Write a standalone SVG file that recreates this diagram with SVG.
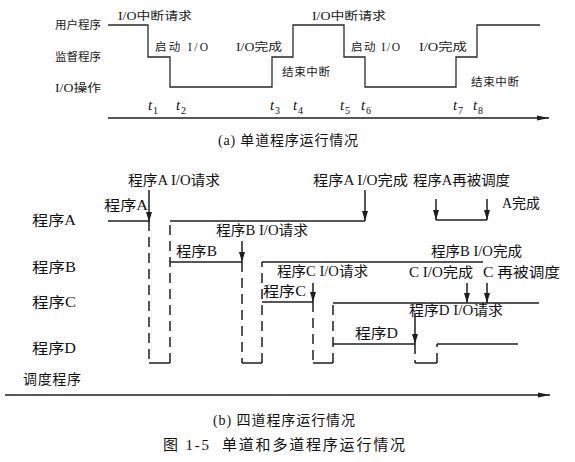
<svg xmlns="http://www.w3.org/2000/svg" width="575" height="462" viewBox="0 0 575 462">
  <defs>
    <style>
      .ln { fill: none; stroke: #1e1e1e; stroke-width: 1.5; }
      .thin { fill: none; stroke: #2a2a2a; stroke-width: 1.3; }
      .ds { stroke-dasharray: 10 6; }
      .tx { font-family: "Liberation Serif", "Noto Sans CJK SC", serif; font-size: 14px; fill: #111; }
      .sm { font-family: "Liberation Serif", "Noto Sans CJK SC", serif; font-size: 11.5px; fill: #222; }
      .cap { font-family: "Liberation Serif", "Noto Sans CJK SC", serif; font-size: 14px; fill: #111; }
      .ti { font-family: "Liberation Serif", serif; font-style: italic; font-size: 15px; fill: #111; }
      .sub { font-family: "Liberation Serif", serif; font-size: 10px; fill: #111; }
    </style>
    <marker id="down" viewBox="0 0 10 10" refX="10" refY="5" markerWidth="10" markerHeight="10" orient="auto" markerUnits="userSpaceOnUse">
      <path d="M0,2 L10,5 L0,8 z" fill="#1e1e1e"/>
    </marker>
    <marker id="axis" viewBox="0 0 12 8" refX="12" refY="4" markerWidth="12" markerHeight="8" orient="auto" markerUnits="userSpaceOnUse">
      <path d="M0,1.5 L12,4 L0,6.5 z" fill="#1e1e1e"/>
    </marker>
  </defs>

  <!-- (a) single-program run -->
  <g id="single">
    <g id="single-labels">
      <text class="sm" x="55" y="29" textLength="46" lengthAdjust="spacing">用户程序</text>
      <text class="sm" x="55" y="61" textLength="46" lengthAdjust="spacing">监督程序</text>
      <text class="sm" x="55" y="92" textLength="46" lengthAdjust="spacingAndGlyphs">I/O操作</text>
    </g>
    <g id="single-trace">
      <path class="thin" d="M108,25 H148 V57 H170 V87 H272 V57 H293 V25 H344 V57 H365 V87 H456 V57 H477 V25 H540"/>
    </g>
    <g id="single-notes">
      <text class="sm" x="118" y="20" textLength="74" lengthAdjust="spacingAndGlyphs">I/O中断请求</text>
      <text class="sm" x="312" y="20" textLength="74" lengthAdjust="spacingAndGlyphs">I/O中断请求</text>
      <text class="sm" x="155" y="51" textLength="53" lengthAdjust="spacing">启动 I/O</text>
      <text class="sm" x="236" y="51" textLength="46" lengthAdjust="spacingAndGlyphs">I/O完成</text>
      <text class="sm" x="351" y="51" textLength="49" lengthAdjust="spacing">启动 I/O</text>
      <text class="sm" x="419" y="51" textLength="48" lengthAdjust="spacingAndGlyphs">I/O完成</text>
      <text class="sm" x="282" y="76" textLength="48" lengthAdjust="spacing">结束中断</text>
      <text class="sm" x="471" y="86" textLength="48" lengthAdjust="spacing">结束中断</text>
    </g>
    <g id="single-times">
      <text class="ti" x="148" y="110">t</text><text class="sub" x="153" y="114">1</text>
      <text class="ti" x="176" y="110">t</text><text class="sub" x="181" y="114">2</text>
      <text class="ti" x="270" y="110">t</text><text class="sub" x="275" y="114">3</text>
      <text class="ti" x="293" y="110">t</text><text class="sub" x="298" y="114">4</text>
      <text class="ti" x="340" y="110">t</text><text class="sub" x="345" y="114">5</text>
      <text class="ti" x="361" y="110">t</text><text class="sub" x="366" y="114">6</text>
      <text class="ti" x="453" y="110">t</text><text class="sub" x="458" y="114">7</text>
      <text class="ti" x="473" y="110">t</text><text class="sub" x="478" y="114">8</text>
    </g>
    <line class="ln" x1="108" y1="118" x2="549" y2="118" marker-end="url(#axis)"/>
    <text class="cap" x="218" y="145" textLength="140" lengthAdjust="spacing">(a) 单道程序运行情况</text>
  </g>

  <!-- (b) four-program run -->
  <g id="multi">
    <g id="row-labels">
      <text class="cap" x="32" y="225" textLength="44" lengthAdjust="spacingAndGlyphs">程序A</text>
      <text class="cap" x="32" y="272" textLength="44" lengthAdjust="spacingAndGlyphs">程序B</text>
      <text class="cap" x="32" y="307" textLength="44" lengthAdjust="spacingAndGlyphs">程序C</text>
      <text class="cap" x="32" y="353" textLength="44" lengthAdjust="spacingAndGlyphs">程序D</text>
      <text class="cap" x="23" y="384" textLength="58" lengthAdjust="spacing">调度程序</text>
    </g>

    <g id="prog-a">
      <path class="ln" d="M108,221 H149"/>
      <path class="ln ds" d="M149,221 V363"/>
      <path class="ln" d="M149,363 H170"/>
      <path class="ln ds" d="M170,363 V221"/>
      <path class="ln" d="M170,221 H365"/>
      <path class="ln" d="M436,220 H487"/>
    </g>
    <g id="prog-b">
      <path class="ln" d="M170,262 H242"/>
      <path class="ln ds" d="M242,262 V363"/>
      <path class="ln" d="M242,363 H262"/>
      <path class="ln ds" d="M262,363 V262"/>
      <path class="ln" d="M262,262 H483"/>
    </g>
    <g id="prog-c">
      <path class="ln" d="M262,302 H313"/>
      <path class="ln ds" d="M313,302 V363"/>
      <path class="ln" d="M313,363 H333"/>
      <path class="ln ds" d="M333,363 V303"/>
      <path class="ln" d="M333,303 H539"/>
    </g>
    <g id="prog-d">
      <path class="ln" d="M333,344 H415"/>
      <path class="ln ds" d="M415,344 V363"/>
      <path class="ln" d="M415,363 H437"/>
      <path class="ln ds" d="M437,363 V344"/>
      <path class="ln" d="M437,344 H518"/>
    </g>

    <g id="connectors">
      <line class="ln" x1="149" y1="190" x2="149" y2="222" marker-end="url(#down)"/>
      <line class="ln" x1="365" y1="190" x2="365" y2="221" marker-end="url(#down)"/>
      <line class="ln" x1="436" y1="199" x2="436" y2="220" marker-end="url(#down)"/>
      <line class="ln" x1="487" y1="199" x2="487" y2="220" marker-end="url(#down)"/>
      <line class="ln" x1="242" y1="241" x2="242" y2="262" marker-end="url(#down)"/>
      <line class="ln" x1="313" y1="283" x2="313" y2="302" marker-end="url(#down)"/>
      <line class="ln" x1="467" y1="283" x2="467" y2="303" marker-end="url(#down)"/>
      <line class="ln" x1="487" y1="283" x2="487" y2="303" marker-end="url(#down)"/>
      <line class="ln" x1="415" y1="313" x2="415" y2="344" marker-end="url(#down)"/>
    </g>

    <g id="event-labels">
      <text class="tx" x="128" y="185" textLength="92" lengthAdjust="spacingAndGlyphs">程序A I/O请求</text>
      <text class="tx" x="104" y="210" textLength="44" lengthAdjust="spacingAndGlyphs">程序A</text>
      <text class="tx" x="313" y="185" textLength="95" lengthAdjust="spacingAndGlyphs">程序A I/O完成</text>
      <text class="tx" x="413" y="185" textLength="97" lengthAdjust="spacingAndGlyphs">程序A再被调度</text>
      <text class="tx" x="502" y="208" textLength="38" lengthAdjust="spacingAndGlyphs">A完成</text>
      <text class="tx" x="216" y="235" textLength="92" lengthAdjust="spacingAndGlyphs">程序B I/O请求</text>
      <text class="tx" x="176" y="256" textLength="41" lengthAdjust="spacingAndGlyphs">程序B</text>
      <text class="tx" x="431" y="256" textLength="91" lengthAdjust="spacingAndGlyphs">程序B I/O完成</text>
      <text class="tx" x="277" y="276" textLength="91" lengthAdjust="spacingAndGlyphs">程序C I/O请求</text>
      <text class="tx" x="409" y="277" textLength="64" lengthAdjust="spacingAndGlyphs">C I/O完成</text>
      <text class="tx" x="483" y="277" textLength="77" lengthAdjust="spacingAndGlyphs">C 再被调度</text>
      <text class="tx" x="263" y="296" textLength="43" lengthAdjust="spacingAndGlyphs">程序C</text>
      <text class="tx" x="409" y="315" textLength="94" lengthAdjust="spacingAndGlyphs">程序D I/O请求</text>
      <text class="tx" x="355" y="338" textLength="43" lengthAdjust="spacingAndGlyphs">程序D</text>
    </g>

    <line class="ln" x1="5" y1="395" x2="550" y2="395" marker-end="url(#axis)"/>
    <text class="cap" x="213" y="425" textLength="142" lengthAdjust="spacing">(b) 四道程序运行情况</text>
  </g>

  <g id="figure-caption">
    <text class="cap" x="163" y="450" textLength="46" lengthAdjust="spacing" style="font-size:15px">图 1-5</text>
    <text class="cap" x="222" y="450" textLength="183" lengthAdjust="spacing" style="font-size:15px">单道和多道程序运行情况</text>
  </g>
</svg>
